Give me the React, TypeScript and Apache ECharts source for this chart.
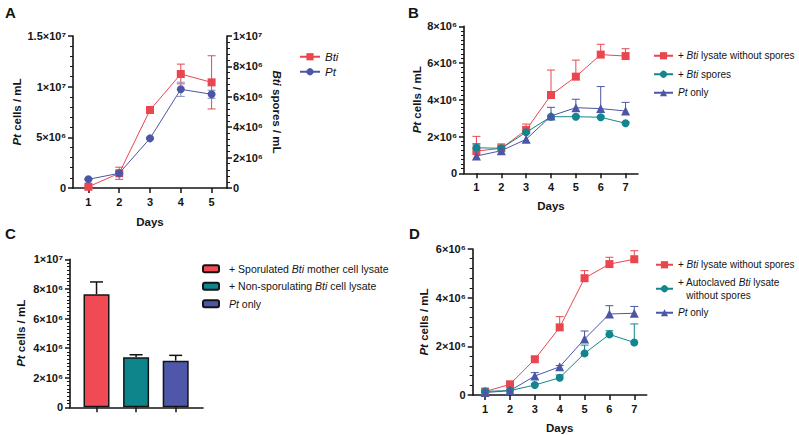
import React, { useEffect, useRef } from 'react';
import * as echarts from 'echarts';

// ---------- Panel A ----------
const daysA = ['1', '2', '3', '4', '5'];
const ptA = [0.86e6, 1.45e6, 4.9e6, 9.74e6, 9.25e6];
const ptAErr = [0.05e6, 0.12e6, 0.1e6, 0.7e6, 0.4e6];
const btiA = [0.08e6, 0.97e6, 5.13e6, 7.5e6, 6.95e6];
const btiAErr = [0.05e6, 0.4e6, 0.17e6, 0.65e6, 1.75e6];

// ---------- Panel B ----------
const daysB = ['1', '2', '3', '4', '5', '6', '7'];
const lysateB = [1.21e6, 1.36e6, 2.36e6, 4.26e6, 5.26e6, 6.46e6, 6.38e6];
const lysateBErr = [0.8e6, 0.24e6, 0.32e6, 1.36e6, 0.9e6, 0.56e6, 0.4e6];
const sporesB = [1.39e6, 1.36e6, 2.23e6, 3.08e6, 3.08e6, 3.05e6, 2.72e6];
const sporesBErr = [0.22e6, 0.08e6, 0.1e6, 0.05e6, 0.05e6, 0.05e6, 0.05e6];
const ptOnlyB = [0.94e6, 1.23e6, 1.85e6, 3.12e6, 3.57e6, 3.52e6, 3.39e6];
const ptOnlyBErr = [0.6e6, 0.12e6, 0.35e6, 0.47e6, 0.46e6, 1.2e6, 0.47e6];

// ---------- Panel C ----------
const barPosC = [1, 2, 3];
const barValsC = [7.64e6, 3.38e6, 3.15e6];
const barErrC = [0.83e6, 0.17e6, 0.36e6];

// ---------- Panel D ----------
const daysD = ['1', '2', '3', '4', '5', '6', '7'];
const lysateD = [0.14e6, 0.44e6, 1.47e6, 2.78e6, 4.8e6, 5.38e6, 5.58e6];
const lysateDErr = [0.03e6, 0.05e6, 0.08e6, 0.44e6, 0.31e6, 0.28e6, 0.35e6];
const autoD = [0.15e6, 0.18e6, 0.41e6, 0.71e6, 1.71e6, 2.49e6, 2.16e6];
const autoDErr = [0.03e6, 0.03e6, 0.05e6, 0.11e6, 0.34e6, 0.15e6, 0.76e6];
const ptOnlyD = [0.1e6, 0.18e6, 0.78e6, 1.16e6, 2.3e6, 3.33e6, 3.36e6];
const ptOnlyDErr = [0.03e6, 0.03e6, 0.14e6, 0.05e6, 0.33e6, 0.34e6, 0.28e6];

const RED = '#E9464F';
const TEAL = '#12868C';
const BLUE = '#4C56A6';
const BAR_RED = '#F04B55';
const BAR_TEAL = '#0E858A';
const BAR_BLUE = '#4E57A8';
const INK = '#141414';
const FONT = 'Liberation Sans, Arial, sans-serif';

const SUP: Record<string, string> = { '0': '⁰', '1': '¹', '2': '²', '3': '³', '4': '⁴', '5': '⁵', '6': '⁶', '7': '⁷', '8': '⁸', '9': '⁹' };
function sci(v: number): string {
  if (v === 0) return '0';
  const e = Math.floor(Math.log10(v) + 1e-9);
  const m = Math.round((v / Math.pow(10, e)) * 10) / 10;
  return `${m}×10${String(e).split('').map((c) => SUP[c]).join('')}`;
}

const legendLabels: Record<string, string> = {
  aBti: '{i|Bti}',
  aPt: '{i|Pt}',
  bLys: '{n|+ }{i|Bti}{n| lysate without spores}',
  bSpo: '{n|+ }{i|Bti}{n| spores}',
  bPt: '{i|Pt}{n| only}',
  cSpo: '{n|+ Sporulated }{i|Bti}{n| mother cell lysate}',
  cNon: '{n|+ Non-sporulating }{i|Bti}{n| cell lysate}',
  cPt: '{i|Pt}{n| only}',
  dLys: '{n|+ }{i|Bti}{n| lysate without spores}',
  dAuto: '{n|+ Autoclaved }{i|Bti}{n| lysate}\n{n|   without spores}',
  dPt: '{i|Pt}{n| only}',
};

const legendRich = (size: number) => ({
  n: { fontFamily: FONT, fontSize: size, color: INK, lineHeight: 12.5 },
  i: { fontFamily: FONT, fontSize: size, color: INK, fontStyle: 'italic', lineHeight: 12.5 },
});

function yAxis(gridIndex: number, max: number, interval: number, minorSplit: number, extra: any = {}) {
  return {
    type: 'value',
    gridIndex,
    min: 0,
    max,
    interval,
    axisLine: { show: true, lineStyle: { color: INK, width: 1.6 } },
    axisTick: { show: true, length: 5, lineStyle: { color: INK, width: 1.5 } },
    minorTick: { show: true, splitNumber: minorSplit, length: 3, lineStyle: { color: INK, width: 1 } },
    splitLine: { show: false },
    minorSplitLine: { show: false },
    axisLabel: { formatter: sci, fontFamily: FONT, fontWeight: 'bold', fontSize: 11, color: INK, margin: 7 },
    nameLocation: 'middle',
    nameTextStyle: {
      fontFamily: FONT, fontWeight: 'bold', fontSize: 11.5, color: INK,
      rich: { i: { fontFamily: FONT, fontWeight: 'bold', fontStyle: 'italic', fontSize: 11.5, color: INK } },
    },
    ...extra,
  };
}

function xCat(gridIndex: number, data: string[], withName: boolean, nameGap: number) {
  return {
    type: 'category',
    gridIndex,
    data,
    boundaryGap: true,
    axisLine: { show: true, lineStyle: { color: INK, width: 1.6 } },
    axisTick: { show: true, alignWithLabel: true, length: 5, lineStyle: { color: INK, width: 1.5 } },
    axisLabel: { fontFamily: FONT, fontWeight: 'bold', fontSize: 11, color: INK, margin: 8 },
    splitLine: { show: false },
    name: withName ? 'Days' : '',
    nameLocation: 'middle',
    nameGap,
    nameTextStyle: { fontFamily: FONT, fontWeight: 'bold', fontSize: 11.5, color: INK },
  };
}

function lineSeries(name: string, xi: number, yi: number, data: number[], color: string, symbol: string) {
  return {
    name,
    type: 'line',
    xAxisIndex: xi,
    yAxisIndex: yi,
    data,
    symbol,
    symbolSize: symbol === 'triangle' ? 9 : 8,
    z: 3,
    lineStyle: { color, width: 1 },
    itemStyle: { color },
  };
}

function errSeries(xi: number, yi: number, xs: number[], vals: number[], errs: number[], color: string, both: boolean, capW: number, lw = 1) {
  return {
    type: 'custom',
    xAxisIndex: xi,
    yAxisIndex: yi,
    silent: true,
    z: 2,
    data: vals.map((v, i) => [xs[i], v, errs[i]]),
    encode: { x: 0, y: 1 },
    renderItem: (_p: any, api: any) => {
      const x = api.value(0);
      const v = api.value(1);
      const e = api.value(2);
      const top = api.coord([x, v + e]);
      const bot = api.coord([x, both ? v - e : v]);
      const hw = capW / 2;
      const st = { stroke: color, lineWidth: lw };
      const children: any[] = [
        { type: 'line', shape: { x1: top[0], y1: top[1], x2: bot[0], y2: bot[1] }, style: st },
        { type: 'line', shape: { x1: top[0] - hw, y1: top[1], x2: top[0] + hw, y2: top[1] }, style: st },
      ];
      if (both) children.push({ type: 'line', shape: { x1: bot[0] - hw, y1: bot[1], x2: bot[0] + hw, y2: bot[1] }, style: st });
      return { type: 'group', children };
    },
  };
}

const idx7 = [0, 1, 2, 3, 4, 5, 6];
const idx5 = [0, 1, 2, 3, 4];

export default function App() {
  const ref = useRef<HTMLDivElement>(null);
  useEffect(() => {
    if (!ref.current) return;
    const chart = echarts.init(ref.current, undefined, { renderer: 'svg' });
    const option: any = {
      animation: false,
      backgroundColor: '#ffffff',
      title: [
        { text: 'A', left: 0, top: 0, textStyle: { fontFamily: FONT, fontWeight: 'bold', fontSize: 15, color: INK } },
        { text: 'B', left: 403, top: 0, textStyle: { fontFamily: FONT, fontWeight: 'bold', fontSize: 15, color: INK } },
        { text: 'C', left: 0, top: 221, textStyle: { fontFamily: FONT, fontWeight: 'bold', fontSize: 15, color: INK } },
        { text: 'D', left: 404, top: 221, textStyle: { fontFamily: FONT, fontWeight: 'bold', fontSize: 15, color: INK } },
      ],
      grid: [
        { left: 73, top: 36, width: 154, height: 152, containLabel: false, outerBoundsMode: 'none' },
        { left: 464, top: 26.3, width: 174, height: 147, containLabel: false, outerBoundsMode: 'none' },
        { left: 70, top: 259.3, width: 133, height: 148, containLabel: false, outerBoundsMode: 'none' },
        { left: 472.7, top: 249, width: 174, height: 146, containLabel: false, outerBoundsMode: 'none' },
      ],
      xAxis: [
        xCat(0, daysA, true, 28),
        xCat(1, daysB, true, 27),
        {
          type: 'value',
          gridIndex: 2,
          min: 0.33,
          max: 3.69,
          axisLine: { show: true, lineStyle: { color: INK, width: 1.6 } },
          axisTick: { show: true, length: 5, customValues: barPosC, lineStyle: { color: INK, width: 1.5 } },
          axisLabel: { show: false },
          splitLine: { show: false },
        },
        xCat(3, daysD, true, 27),
      ],
      yAxis: [
        yAxis(0, 1.5e7, 5e6, 5, { name: '{i|Pt} cells / mL', nameGap: 50 }),
        yAxis(0, 1e7, 2e6, 5, {
          position: 'right',
          name: '{i|Bti} spores / mL',
          nameGap: 44,
          nameRotate: -90,
          axisLabel: { formatter: sci, fontFamily: FONT, fontWeight: 'bold', fontSize: 11, color: INK, margin: 6 },
        }),
        yAxis(1, 8e6, 2e6, 8, { name: '{i|Pt} cells / mL', nameGap: 40 }),
        yAxis(2, 1e7, 2e6, 8, { name: '{i|Pt} cells / mL', nameGap: 43 }),
        yAxis(3, 6e6, 2e6, 5, { name: '{i|Pt} cells / mL', nameGap: 43 }),
      ],
      legend: [
        {
          orient: 'vertical', left: 294, top: 45.5, itemWidth: 20, itemHeight: 9, itemGap: 2.5,
          data: ['aBti', 'aPt'], formatter: (n: string) => legendLabels[n],
          textStyle: { fontFamily: FONT, fontSize: 11.5, color: INK, lineHeight: 12.5, rich: legendRich(11.5) },
        },
        {
          orient: 'vertical', left: 648, top: 44.5, itemWidth: 19, itemHeight: 9, itemGap: 6,
          data: ['bLys', 'bSpo', 'bPt'], formatter: (n: string) => legendLabels[n],
          textStyle: { fontFamily: FONT, fontSize: 10, color: INK, lineHeight: 12.5, rich: legendRich(10) },
        },
        {
          orient: 'vertical', left: 197, top: 257.5, itemWidth: 16, itemHeight: 7, itemGap: 5,
          data: ['cSpo', 'cNon', 'cPt'], formatter: (n: string) => legendLabels[n],
          textStyle: { fontFamily: FONT, fontSize: 10.5, color: INK, lineHeight: 12.5, padding: [0, 0, 0, 5], rich: legendRich(10.5) },
        },
        {
          orient: 'vertical', left: 650, top: 253.5, itemWidth: 17, itemHeight: 9, itemGap: 5.25,
          data: ['dLys', 'dAuto', 'dPt'], formatter: (n: string) => legendLabels[n],
          textStyle: { fontFamily: FONT, fontSize: 10, color: INK, lineHeight: 12.5, rich: legendRich(10) },
        },
      ],
      series: [
        // A
        errSeries(0, 1, idx5, btiA, btiAErr, RED, true, 8),
        errSeries(0, 0, idx5, ptA, ptAErr, '#8a90c4', true, 8),
        lineSeries('aBti', 0, 1, btiA, RED, 'rect'),
        lineSeries('aPt', 0, 0, ptA, BLUE, 'circle'),
        // B
        errSeries(1, 2, idx7, lysateB, lysateBErr, RED, false, 8),
        errSeries(1, 2, idx7, sporesB, sporesBErr, TEAL, false, 8),
        errSeries(1, 2, idx7, ptOnlyB, ptOnlyBErr, BLUE, false, 8),
        lineSeries('bLys', 1, 2, lysateB, RED, 'rect'),
        lineSeries('bSpo', 1, 2, sporesB, TEAL, 'circle'),
        lineSeries('bPt', 1, 2, ptOnlyB, BLUE, 'triangle'),
        // C
        ...[
          { name: 'cSpo', color: BAR_RED },
          { name: 'cNon', color: BAR_TEAL },
          { name: 'cPt', color: BAR_BLUE },
        ].map((s, i) => ({
          name: s.name,
          type: 'bar',
          xAxisIndex: 2,
          yAxisIndex: 3,
          barWidth: 26,
          barGap: '-100%',
          z: 2,
          data: [[barPosC[i], barValsC[i]]],
          itemStyle: { color: s.color, borderColor: INK, borderWidth: 1.5 },
        })),
        { ...errSeries(2, 3, barPosC, barValsC, barErrC, INK, false, 13, 1.5), z: 1 },
        // D
        errSeries(3, 4, idx7, lysateD, lysateDErr, RED, false, 8),
        errSeries(3, 4, idx7, autoD, autoDErr, TEAL, false, 8),
        errSeries(3, 4, idx7, ptOnlyD, ptOnlyDErr, BLUE, false, 8),
        lineSeries('dLys', 3, 4, lysateD, RED, 'rect'),
        lineSeries('dAuto', 3, 4, autoD, TEAL, 'circle'),
        lineSeries('dPt', 3, 4, ptOnlyD, BLUE, 'triangle'),
      ],
    };
    chart.setOption(option);
    return () => chart.dispose();
  }, []);
  return (
    <div
      ref={ref}
      style={{ position: 'fixed', left: 0, top: 0, width: 799, height: 435, background: '#fff' }}
    />
  );
}
